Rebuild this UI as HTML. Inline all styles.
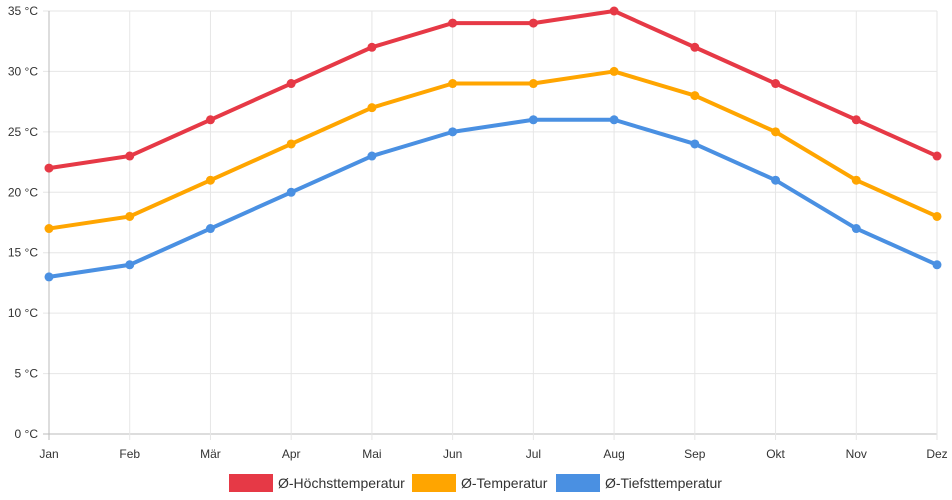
<!DOCTYPE html>
<html><head><meta charset="utf-8"><style>
body{margin:0;background:#fff;}
svg{display:block;font-family:"Liberation Sans",sans-serif;}
</style></head><body>
<svg id="chart" width="952" height="500" viewBox="0 0 952 500" xmlns="http://www.w3.org/2000/svg">
<g id="grid"></g>
<g id="yticks"></g>
<g id="xticks"></g>
<g id="series"></g>
<g id="legend"></g>
</svg>
<script>
const months = ["Jan","Feb","Mär","Apr","Mai","Jun","Jul","Aug","Sep","Okt","Nov","Dez"];
const highTemps = [22,23,26,29,32,34,34,35,32,29,26,23];
const meanTemps = [17,18,21,24,27,29,29,30,28,25,21,18];
const lowTemps = [13,14,17,20,23,25,26,26,24,21,17,14];
const yTickValues = [0,5,10,15,20,25,30,35];
const seriesNames = ["Ø-Höchsttemperatur","Ø-Temperatur","Ø-Tiefsttemperatur"];
const seriesColors = ["#e63946","#ffa500","#4a90e2"];

const NS="http://www.w3.org/2000/svg";
const x0=49,x1=937,yTop=11,yBot=434,yMax=35;
function xs(i){return x0+(x1-x0)*i/(months.length-1);}
function ys(v){return yBot-(yBot-yTop)*v/yMax;}
function mk(tag,attrs,parent){const e=document.createElementNS(NS,tag);for(const k in attrs)e.setAttribute(k,attrs[k]);parent.appendChild(e);return e;}
const grid=document.getElementById('grid'),yt=document.getElementById('yticks'),xt=document.getElementById('xticks'),ser=document.getElementById('series'),leg=document.getElementById('legend');
yTickValues.forEach(v=>{
  const l=mk('line',{x1:x0-6,x2:x1,y1:ys(v),y2:ys(v),stroke:v===0?'#bbb':'#e6e6e6','stroke-width':1},grid);
  
  
  const t=mk('text',{x:38,y:ys(v)+4,'text-anchor':'end','font-size':12,fill:'#333'},yt);
  t.textContent=v+' °C';
  
  
});
months.forEach((m,i)=>{
  const l=mk('line',{x1:xs(i),x2:xs(i),y1:yTop,y2:yBot+6,stroke:i===0?'#bbb':'#e6e6e6','stroke-width':1},grid);
  
  
  const t=mk('text',{x:xs(i),y:458,'text-anchor':'middle','font-size':12,fill:'#333'},xt);
  t.textContent=m;
  
  
});
[highTemps,meanTemps,lowTemps].forEach((d,s)=>{
  const g=mk('g',{},ser);
  
  
  const p=mk('polyline',{points:d.map((v,i)=>xs(i)+','+ys(v)).join(' '),fill:'none',stroke:seriesColors[s],'stroke-width':4,'stroke-linejoin':'round'},g);
  
  
  d.forEach((v,i)=>{
    const c=mk('circle',{cx:xs(i),cy:ys(v),r:4.5,fill:seriesColors[s]},g);
    
    
  });
});
const legX=[229,412,556];
seriesNames.forEach((n,s)=>{
  const g=mk('g',{},leg);
  
  
  mk('rect',{x:legX[s],y:474,width:44,height:18,fill:seriesColors[s]},g);
  const t=mk('text',{x:legX[s]+49,y:488,'font-size':14,fill:'#333'},g);
  t.textContent=n;
});
</script>
</body></html>
